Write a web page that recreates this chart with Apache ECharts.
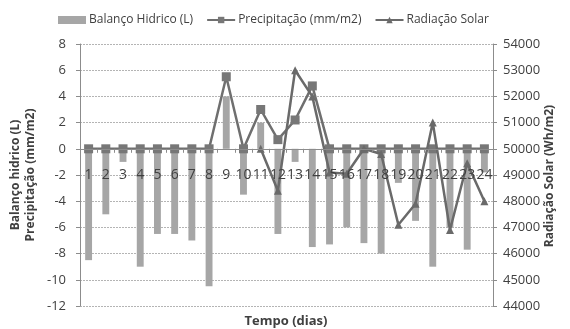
<!DOCTYPE html>
<html>
<head>
<meta charset="utf-8">
<script src="https://cdn.jsdelivr.net/npm/echarts@6/dist/echarts.min.js"></script>
<style>
  html, body { margin: 0; padding: 0; background: #fff; }
  #chart { width: 570px; height: 329px; }
</style>
</head>
<body>
<div id="chart"></div>
<script>
// Days of the observation period
const dias = ['1','2','3','4','5','6','7','8','9','10','11','12','13','14','15','16','17','18','19','20','21','22','23','24'];

// Daily water balance (L)
const balancoHidrico = [-8.5, -5, -1, -9, -6.5, -6.5, -7, -10.5, 4, -3.5, 2, -6.5, -1, -7.5, -7.3, -6, -7.2, -8, -2.6, -5.5, -9, -6, -7.7, -1.8];

// Daily rainfall (mm/m2)
const precipitacao = [0, 0, 0, 0, 0, 0, 0, 0, 5.5, 0, 3, 0.7, 2.2, 4.8, 0, 0, 0, 0, 0, 0, 0, 0, 0, 0];

// Daily solar radiation (Wh/m2), recorded from day 11 on
const radiacaoSolar = [null, null, null, null, null, null, null, null, null, null,
  50000, 48400, 53000, 52000, 49100, 49050, 50000, 49800, 47100, 47900, 51000, 46900, 49450, 48000];

// Axis ranges
const leftAxis = { min: -12, max: 8, interval: 2 };
const rightAxis = { min: 44000, max: 54000, interval: 1000 };

const FONT = 'Open Sans';
const TEXT = '#404040';
const AXIS = '#8c8c8c';

const chart = echarts.init(document.getElementById('chart'), null, { renderer: 'canvas' });

chart.setOption({
  animation: false,
  backgroundColor: '#ffffff',
  textStyle: { fontFamily: FONT },
  grid: { left: 80, right: 77, top: 44, bottom: 23, containLabel: false, outerBoundsMode: 'none' },
  legend: {
    left: 53,
    top: 9,
    itemWidth: 28,
    itemHeight: 8,
    itemGap: 13,
    textStyle: { fontFamily: FONT, fontSize: 12, color: TEXT, padding: [0, 0, 0, -2] },
    data: [
      { name: 'Balanço Hidrico (L)', icon: 'rect' },
      'Precipitação (mm/m2)',
      'Radiação Solar'
    ]
  },
  xAxis: {
    type: 'category',
    data: dias,
    position: 'bottom',
    offset: 0,
    axisLine: { onZero: false, lineStyle: { color: AXIS, width: 1 } },
    axisTick: { show: true, alignWithLabel: false, length: 4, lineStyle: { color: AXIS } },
    axisLabel: { interval: 0, margin: 19, fontFamily: FONT, fontSize: 14, color: TEXT },
    splitLine: { show: false },
    z: 5
  },
  yAxis: [
    {
      type: 'value',
      min: leftAxis.min, max: leftAxis.max, interval: leftAxis.interval,
      axisLine: { show: true, onZero: false, lineStyle: { color: AXIS } },
      axisTick: { show: true, length: 4, lineStyle: { color: AXIS } },
      axisLabel: { margin: 14, fontFamily: FONT, fontSize: 13, color: TEXT },
      splitLine: { show: true, lineStyle: { color: '#b4b4b4', type: [2, 1], width: 1 } }
    },
    {
      type: 'value',
      min: rightAxis.min, max: rightAxis.max, interval: rightAxis.interval,
      axisLine: { show: true, onZero: false, lineStyle: { color: AXIS } },
      axisTick: { show: true, length: 4, lineStyle: { color: AXIS } },
      axisLabel: { margin: 10, fontFamily: FONT, fontSize: 13, color: TEXT,
        formatter: function (v) { return String(v); } },
      splitLine: { show: false }
    }
  ],
  graphic: [
    {
      type: 'text', x: 16, y: 175, rotation: Math.PI / 2,
      style: { text: 'Balanço hidrico (L)', x: 0, y: 0, align: 'center', verticalAlign: 'middle',
        font: 'bold 12px "Open Sans"', fill: TEXT }
    },
    {
      type: 'text', x: 31, y: 175, rotation: Math.PI / 2,
      style: { text: 'Precipitação (mm/m2)', x: 0, y: 0, align: 'center', verticalAlign: 'middle',
        font: 'bold 12px "Open Sans"', fill: TEXT }
    },
    {
      type: 'text', x: 550, y: 176, rotation: Math.PI / 2,
      style: { text: 'Radiação Solar (Wh/m2)', x: 0, y: 0, align: 'center', verticalAlign: 'middle',
        font: 'bold 12px "Open Sans"', fill: TEXT }
    },
    {
      type: 'text', x: 286, y: 321,
      style: { text: 'Tempo (dias)', x: 0, y: 0, align: 'center', verticalAlign: 'middle',
        font: 'bold 13px "Open Sans"', fill: TEXT }
    }
  ],
  series: [
    {
      name: 'Balanço Hidrico (L)',
      type: 'bar',
      data: balancoHidrico,
      barWidth: '40%',
      itemStyle: { color: '#a6a6a6' },
      z: 2
    },
    {
      name: 'Precipitação (mm/m2)',
      type: 'line',
      data: precipitacao,
      symbol: 'rect',
      symbolSize: 9,
      lineStyle: { color: '#6f6f6f', width: 2.5 },
      itemStyle: { color: '#777777' },
      z: 3
    },
    {
      name: 'Radiação Solar',
      type: 'line',
      yAxisIndex: 1,
      data: radiacaoSolar,
      connectNulls: false,
      symbol: 'triangle',
      symbolSize: 8,
      lineStyle: { color: '#6a6a6a', width: 2.5 },
      itemStyle: { color: '#6a6a6a' },
      z: 4
    }
  ]
});

// The category axis crosses the left value axis at zero: shift it up from
// the bottom of the grid to where the left scale puts 0.
const yZero = chart.convertToPixel({ yAxisIndex: 0 }, 0);
const yBottom = chart.convertToPixel({ yAxisIndex: 0 }, leftAxis.min);
chart.setOption({ xAxis: { offset: yZero - yBottom } });
</script>
</body>
</html>
